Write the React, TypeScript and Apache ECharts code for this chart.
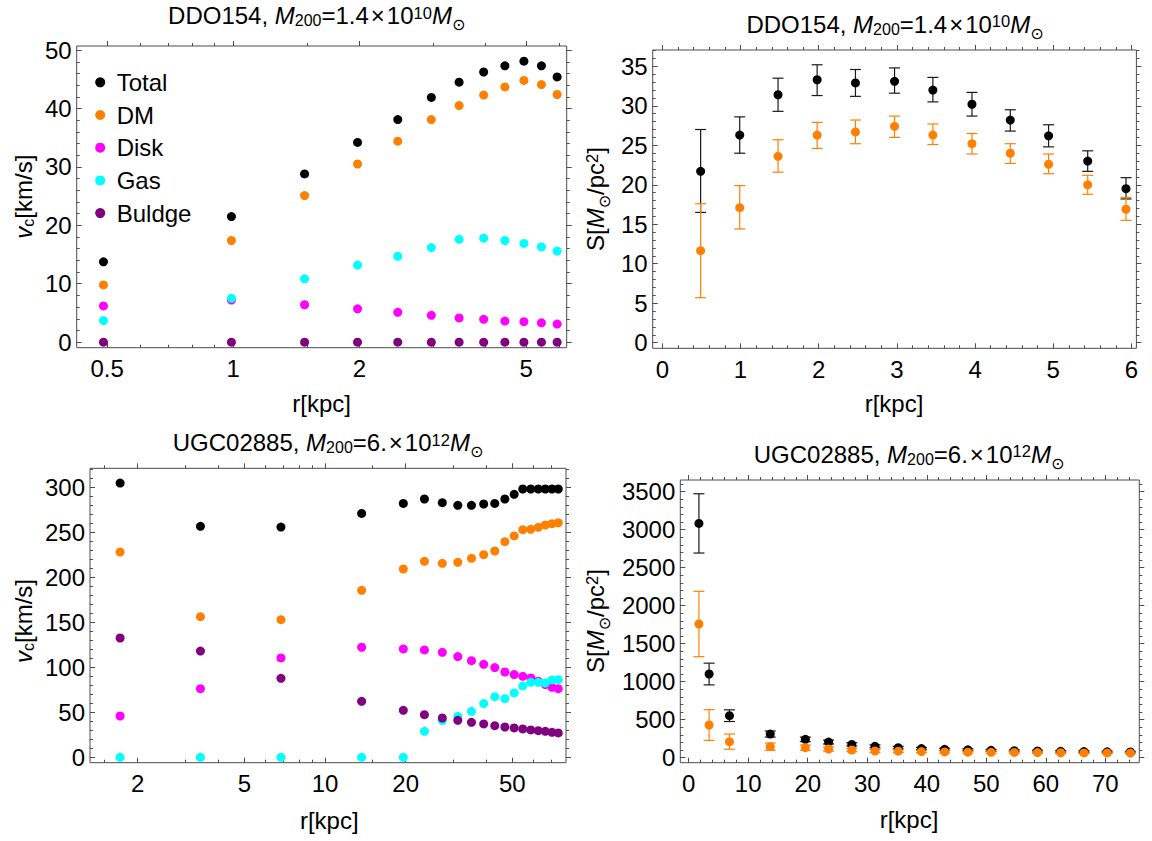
import React, { useEffect, useRef } from "react";
import * as echarts from "echarts";

const FONT = "'Liberation Sans', Arial, Helvetica, sans-serif";
const SUNFONT = "'DejaVu Sans', sans-serif";
const FRAME = "#4d4d4d";

// ---------- DDO154 ----------
const rDDO = [0.49, 0.99, 1.48, 1.98, 2.47, 2.97, 3.46, 3.96, 4.45, 4.94, 5.44, 5.93];
const vcDDOTotal = [13.75, 21.5, 28.8, 34.2, 38.1, 41.9, 44.5, 46.25, 47.3, 48.1, 47.3, 45.4];
const vcDDODM = [9.8, 17.4, 25.1, 30.5, 34.4, 38.1, 40.5, 42.3, 43.7, 44.8, 44.1, 42.4];
const vcDDODisk = [6.2, 7.2, 6.4, 5.7, 5.1, 4.6, 4.15, 3.9, 3.6, 3.5, 3.3, 3.1];
const vcDDOGas = [3.7, 7.5, 10.85, 13.2, 14.7, 16.2, 17.6, 17.8, 17.4, 16.9, 16.3, 15.6];
const vcDDOBulge = [0, 0, 0, 0, 0, 0, 0, 0, 0, 0, 0, 0];

const sDDOTotal = [21.7, 26.3, 31.4, 33.3, 32.9, 33.1, 32.0, 30.2, 28.2, 26.2, 23.0, 19.5];
const sDDOTotalHi = [27.0, 28.6, 33.5, 35.2, 34.6, 34.8, 33.6, 31.7, 29.5, 27.6, 24.3, 20.9];
const sDDOTotalLo = [16.5, 24.0, 29.3, 31.3, 31.2, 31.6, 30.5, 28.7, 26.8, 24.8, 21.7, 18.2];
const sDDODM = [11.65, 17.1, 23.6, 26.3, 26.7, 27.4, 26.3, 25.2, 24.0, 22.6, 20.0, 16.9];
const sDDODMHi = [17.6, 19.9, 25.7, 27.9, 28.2, 28.7, 27.7, 26.5, 25.2, 23.9, 21.2, 18.4];
const sDDODMLo = [5.7, 14.4, 21.6, 24.6, 25.2, 26.0, 25.1, 23.9, 22.7, 21.4, 18.8, 15.5];

// ---------- UGC02885 ----------
const rUGC = [1.72, 3.43, 6.85, 13.7, 19.6, 23.5, 27.4, 31.3, 35.2, 39.1, 43.0, 46.9, 50.8, 54.7, 58.6, 62.5, 66.4, 70.3, 74.2];
const vcUGCTotal = [304.8, 256.7, 255.9, 271.1, 282.2, 287.1, 283.0, 280.0, 280.0, 281.5, 282.2, 287.1, 292.3, 298.2, 298.2, 298.2, 298.2, 298.2, 298.2];
const vcUGCDM = [228.1, 156.3, 153.0, 185.6, 209.3, 217.8, 215.6, 216.7, 221.1, 225.2, 229.3, 239.7, 246.0, 253.0, 253.4, 255.6, 258.2, 259.6, 260.7];
const vcUGCDisk = [45.9, 76.3, 110.4, 122.3, 120.4, 119.3, 116.7, 111.9, 107.4, 103.3, 99.7, 94.8, 91.9, 90.0, 88.2, 84.5, 80.8, 77.8, 76.3];
const vcUGCGas = [0, 0, 0, 0, 0, 28.9, 40.8, 45.6, 51.1, 59.7, 67.4, 65.2, 71.5, 79.3, 83.3, 83.3, 82.6, 86.0, 86.3];
const vcUGCBulge = [132.6, 118.1, 87.8, 62.2, 52.2, 47.4, 43.7, 41.1, 38.9, 37.1, 35.2, 33.7, 32.6, 31.5, 30.4, 29.6, 28.9, 27.8, 27.1];

const sUGCTotal = [3083, 1101, 553, 311, 241, 206, 175, 149, 132, 120, 110, 103, 97, 92, 88, 84, 80, 77, 75];
const sUGCTotalErr = [390, 143, 77, 40, 30, 26, 22, 19, 17, 15, 14, 13, 12, 11, 11, 10, 10, 9, 9];
const sUGCDM = [1759, 430, 211, 145, 132, 114, 101, 88, 86, 80, 76, 73, 71, 69, 67, 65, 63, 62, 61];
const sUGCDMErr = [430, 202, 100, 48, 35, 28, 22, 19, 17, 15, 14, 13, 12, 11, 11, 10, 10, 9, 9];

// ---------- legend / colours ----------
const legendNames = ["Total", "DM", "Disk", "Gas", "Buldge"];
const COLORS: Record<string, string> = {
  Total: "#000000",
  DM: "#ff8000",
  Disk: "#ff00ff",
  Gas: "#00ffff",
  Buldge: "#800080",
};

// ---------- tick values ----------
const steps = (a: number, b: number, s: number) => {
  const out: number[] = [];
  for (let v = a; v <= b + 1e-9; v += s) out.push(Math.round(v * 1e6) / 1e6);
  return out;
};
const ddoVcXMajor = [0.5, 1, 2, 5];
const ddoVcXMinor = [0.6, 0.7, 0.8, 0.9, 1.5, 3, 4, 6];
const ddoVcYMajor = [0, 10, 20, 30, 40, 50];
const ddoVcYMinor = steps(0, 50, 2);
const ddoSXMajor = [0, 1, 2, 3, 4, 5, 6];
const ddoSXMinor = steps(0, 6, 0.2);
const ddoSYMajor = [0, 5, 10, 15, 20, 25, 30, 35];
const ddoSYMinor = steps(0, 37, 1);
const ugcVcXMajor = [2, 5, 10, 20, 50];
const ugcVcXMinor = [1.5, 3, 4, 6, 7, 8, 9, 15, 30, 40, 60, 70];
const ugcVcYMajor = [0, 50, 100, 150, 200, 250, 300];
const ugcVcYMinor = steps(0, 320, 10);
const ugcSXMajor = [0, 10, 20, 30, 40, 50, 60, 70];
const ugcSXMinor = steps(0, 74, 2);
const ugcSYMajor = [0, 500, 1000, 1500, 2000, 2500, 3000, 3500];
const ugcSYMinor = steps(0, 3600, 100);

const grids = [
  { left: 76.7, top: 46, width: 490, height: 301.7 },
  { left: 652.7, top: 50, width: 483.7, height: 298.3 },
  { left: 90, top: 468.3, width: 476, height: 294.4 },
  { left: 680.3, top: 480, width: 459, height: 282.7 },
];

const fmt = (v: number) => String(parseFloat(Number(v).toPrecision(6)));

function axisSet(
  dim: "x" | "y",
  grid: number,
  type: "value" | "log",
  min: number,
  max: number,
  major: number[],
  minor: number[]
) {
  const pos = dim === "x" ? ["bottom", "top"] : ["left", "right"];
  const make = (position: string, ticks: number[], len: number, labels: boolean, inside: boolean) => ({
    type,
    gridIndex: grid,
    position,
    min,
    max,
    ...(type === "log" ? { logBase: 10 } : {}),
    axisLine: { show: false, onZero: false },
    splitLine: { show: false },
    minorTick: { show: false },
    minorSplitLine: { show: false },
    axisPointer: { show: false },
    axisTick: {
      show: true,
      inside,
      length: len,
      customValues: ticks,
      lineStyle: { color: FRAME, width: 1 },
    },
    axisLabel: labels
      ? {
          show: true,
          customValues: major,
          formatter: fmt,
          fontSize: 24,
          fontFamily: FONT,
          color: "#000",
          margin: dim === "x" ? 9 : 5,
          hideOverlap: false,
        }
      : { show: false },
    silent: true,
  });
  // the mirrored (top / right) axes draw their ticks towards the plot with inside: false
  return [
    make(pos[0], major, 5, true, true),
    make(pos[0], minor, 3, false, true),
    make(pos[1], major, 5, false, false),
    make(pos[1], minor, 3, false, false),
  ];
}

const zip = (xs: number[], ys: number[]) => xs.map((x, i) => [x, ys[i]]);

function scatter(name: string, grid: number, xs: number[], ys: number[]) {
  return {
    type: "scatter",
    name,
    xAxisIndex: grid * 4,
    yAxisIndex: grid * 4,
    data: zip(xs, ys),
    symbol: "circle",
    symbolSize: 9,
    itemStyle: { color: COLORS[name], opacity: 1 },
    silent: true,
  };
}

function errorBars(grid: number, xs: number[], lo: number[], hi: number[], color: string) {
  return {
    type: "custom",
    xAxisIndex: grid * 4,
    yAxisIndex: grid * 4,
    data: xs.map((x, i) => [x, lo[i], hi[i]]),
    encode: { x: 0, y: [1, 2] },
    silent: true,
    renderItem: (params: any, api: any) => {
      const x = api.value(0);
      const pLo = api.coord([x, api.value(1)]);
      const pHi = api.coord([x, api.value(2)]);
      const hw = 5.5;
      const st = { stroke: color, lineWidth: 1.2 };
      return {
        type: "group",
        children: [
          { type: "line", shape: { x1: pLo[0], y1: pLo[1], x2: pHi[0], y2: pHi[1] }, style: st },
          { type: "line", shape: { x1: pLo[0] - hw, y1: pLo[1], x2: pLo[0] + hw, y2: pLo[1] }, style: st },
          { type: "line", shape: { x1: pHi[0] - hw, y1: pHi[1], x2: pHi[0] + hw, y2: pHi[1] }, style: st },
        ],
      };
    },
  };
}

const RICH = {
  n: { fontSize: 24, fontFamily: FONT, color: "#000" },
  i: { fontSize: 24, fontFamily: FONT, fontStyle: "italic", color: "#000" },
  sub: { fontSize: 16, fontFamily: FONT, color: "#000", padding: [10, 0, 0, 0] },
  sun: { fontSize: 16, fontFamily: SUNFONT, color: "#000", padding: [18, 0, 0, 0] },
  sup: { fontSize: 16.5, fontFamily: FONT, color: "#000", padding: [0, 0, 6, 0] },
};

function label(text: string, x: number, y: number, rotate = false) {
  return {
    type: "text",
    x,
    y,
    rotation: rotate ? Math.PI / 2 : 0,
    silent: true,
    style: {
      text,
      rich: RICH,
      font: `24px ${FONT}`,
      fill: "#000",
      align: "center",
      verticalAlign: "middle",
      textAlign: "center",
      textVerticalAlign: "middle",
    },
  };
}

const titleDDO = "{n|DDO154, }{i|M}{sub|200}{n|=1.4\u200a×\u200a10}{sup|10}{i|M}{sun|⊙}";
const titleUGC = "{n|UGC02885, }{i|M}{sub|200}{n|=6.\u200a×\u200a10}{sup|12}{i|M}{sun|⊙}";
const nameR = "{n|r[kpc]}";
const nameVc = "{i|v}{sub|c}{n|[km/s]}";
const nameS = "{n|S[}{i|M}{sun|⊙}{n|/pc}{sup|2}{n|]}";

export default function App() {
  const ref = useRef<HTMLDivElement>(null);
  useEffect(() => {
    if (!ref.current) return;
    const chart = echarts.init(ref.current, undefined, { renderer: "svg" });
    const xAxis = [
      ...axisSet("x", 0, "log", 0.423, 6.25, ddoVcXMajor, ddoVcXMinor),
      ...axisSet("x", 1, "value", -0.123, 6.063, ddoSXMajor, ddoSXMinor),
      ...axisSet("x", 2, "log", 1.328, 79.3, ugcVcXMajor, ugcVcXMinor),
      ...axisSet("x", 3, "value", -1.41, 75.7, ugcSXMajor, ugcSXMinor),
    ];
    const yAxis = [
      ...axisSet("y", 0, "value", -0.95, 50.7, ddoVcYMajor, ddoVcYMinor),
      ...axisSet("y", 1, "value", -0.71, 37.07, ddoSYMajor, ddoSYMinor),
      ...axisSet("y", 2, "value", -6.0, 321.2, ugcVcYMajor, ugcVcYMinor),
      ...axisSet("y", 3, "value", -66, 3654, ugcSYMajor, ugcSYMinor),
    ];
    const series: any[] = [
      scatter("Total", 0, rDDO, vcDDOTotal),
      scatter("DM", 0, rDDO, vcDDODM),
      scatter("Disk", 0, rDDO, vcDDODisk),
      scatter("Gas", 0, rDDO, vcDDOGas),
      scatter("Buldge", 0, rDDO, vcDDOBulge),

      errorBars(1, rDDO, sDDOTotalLo, sDDOTotalHi, "#1a1a1a"),
      scatter("Total", 1, rDDO, sDDOTotal),
      errorBars(1, rDDO, sDDODMLo, sDDODMHi, "#ff8000"),
      scatter("DM", 1, rDDO, sDDODM),

      scatter("Total", 2, rUGC, vcUGCTotal),
      scatter("DM", 2, rUGC, vcUGCDM),
      scatter("Disk", 2, rUGC, vcUGCDisk),
      scatter("Gas", 2, rUGC, vcUGCGas),
      scatter("Buldge", 2, rUGC, vcUGCBulge),

      errorBars(
        3,
        rUGC,
        sUGCTotal.map((v, i) => v - sUGCTotalErr[i]),
        sUGCTotal.map((v, i) => v + sUGCTotalErr[i]),
        "#1a1a1a"
      ),
      scatter("Total", 3, rUGC, sUGCTotal),
      errorBars(
        3,
        rUGC,
        sUGCDM.map((v, i) => v - sUGCDMErr[i]),
        sUGCDM.map((v, i) => v + sUGCDMErr[i]),
        "#ff8000"
      ),
      scatter("DM", 3, rUGC, sUGCDM),
    ];
    chart.setOption({
      animation: false,
      backgroundColor: "#ffffff",
      textStyle: { fontFamily: FONT },
      grid: grids.map((g) => ({
        ...g,
        show: true,
        borderColor: FRAME,
        borderWidth: 1,
        backgroundColor: "transparent",
        containLabel: false,
        outerBoundsMode: "none",
      })),
      legend: {
        show: true,
        data: legendNames,
        orient: "vertical",
        left: 95.2,
        top: 70.3,
        padding: 0,
        itemGap: 8.7,
        itemWidth: 23,
        itemHeight: 10,
        icon: "circle",
        selectedMode: false,
        textStyle: { fontSize: 24, fontFamily: FONT, color: "#000", lineHeight: 24 },
      },
      xAxis,
      yAxis,
      series,
      graphic: [
        label(titleDDO, 316.7, 15.7),
        label(titleDDO, 895, 24),
        label(titleUGC, 328, 442.5),
        label(titleUGC, 909, 454),
        label(nameR, 321.7, 403),
        label(nameR, 894, 403),
        label(nameR, 329.3, 820.5),
        label(nameR, 909, 819),
        label(nameVc, 23, 196.7, true),
        label(nameS, 595, 199, true),
        label(nameVc, 23, 621, true),
        label(nameS, 595, 621, true),
      ],
    });
    return () => chart.dispose();
  }, []);
  return (
    <div
      ref={ref}
      style={{ position: "fixed", left: 0, top: 0, width: 1152, height: 841, background: "#fff" }}
    />
  );
}
